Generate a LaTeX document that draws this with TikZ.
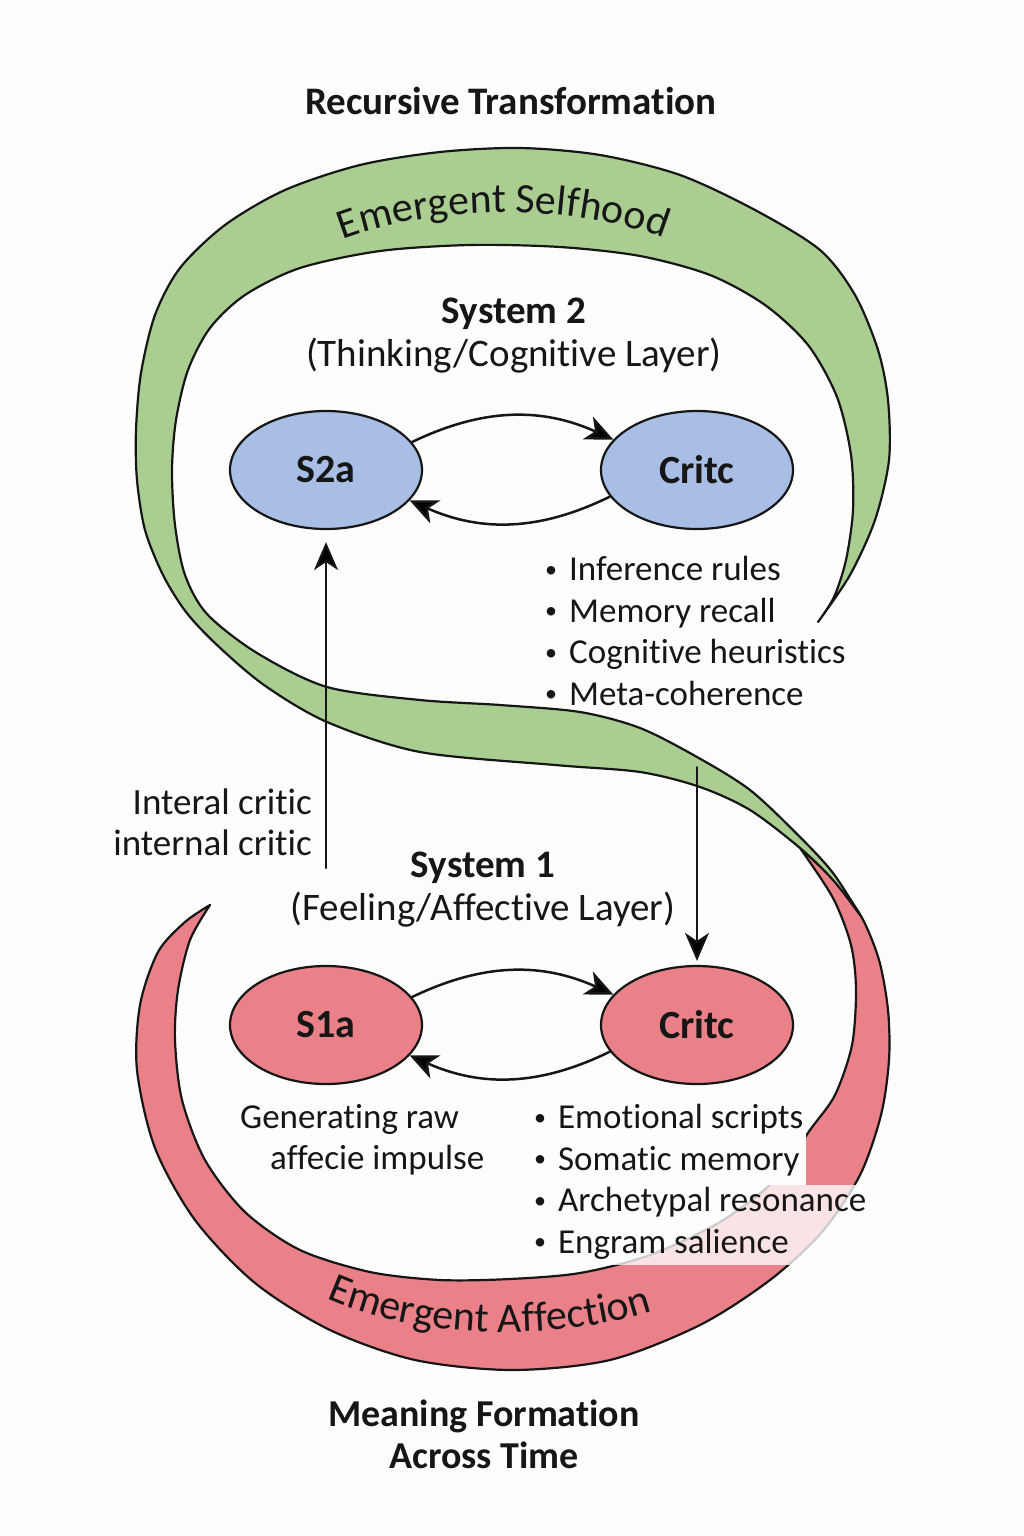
\documentclass[tikz,border=0pt]{standalone}
\usepackage{fontspec}
\setmainfont{Carlito}[Ligatures=NoCommon]
\usetikzlibrary{shapes.geometric,arrows.meta,decorations.text}
\definecolor{selfgreen}{RGB}{170,206,146}
\definecolor{affred}{RGB}{234,129,137}
\definecolor{cogblue}{RGB}{168,190,229}
\definecolor{paper}{RGB}{253,253,251}
\definecolor{ink}{RGB}{22,22,22}
\newcommand\headfont{\fontsize{39}{43}\selectfont}
\newcommand\listfont{\fontsize{35}{41.5}\selectfont}
\newcommand\bandfont{\fontsize{42}{50}\selectfont}
\newcommand\itm{\hspace*{3pt}\raisebox{3.5pt}{\fontsize{24}{24}\selectfont\textbullet}\hspace{12pt}}
\begin{document}
\begin{tikzpicture}[x=1pt,y=-1pt, line join=round, line cap=round,
	band/.style={draw=ink,line width=2.2pt},
	sysnode/.style={ellipse,draw=ink,line width=2.2pt,minimum width=192pt,minimum height=118pt,inner sep=0pt,text=ink,font=\fontsize{40}{44}\selectfont\bfseries},
	cycarrow/.style={-{Stealth[length=28pt,width=25pt,inset=8pt]},draw=ink,line width=2.5pt},
	uparrow/.style={-{Stealth[length=28pt,width=24pt,inset=8pt]},draw=ink,line width=2pt},
	lbl/.style={text=ink,inner sep=0pt}]
	\fill[paper] (0,0) rectangle (1024,1536);
	\useasboundingbox (0,0) rectangle (1024,1536);
	% red band (Emergent Affection)
	\draw[band,fill=affred] plot[smooth] coordinates {(800,848) (833,879) (861,916) (879,960) (888,1010) (889,1060) (881,1115) (860,1175) (822,1232) (770,1280) (700,1325) (610,1360) (512,1370) (415,1360) (330,1330) (255,1283) (195,1220) (155,1148) (137,1070) (140,1005) (158,952) (185,922) (210,905)}
		-- plot[smooth] coordinates {(210,905) (190,940) (178,990) (175,1040) (182,1100) (205,1160) (245,1212) (300,1250) (370,1272) (440,1280) (510,1279) (580,1273) (650,1255) (720,1222) (775,1180) (810,1130) (835,1095) (852,1045) (856,990) (851,945) (833,898) (800,848)} -- cycle;
	% green band (Emergent Selfhood)
	\draw[band,fill=selfgreen] plot[smooth] coordinates {(818,622) (850,575) (875,520) (889,460) (888,400) (878,350) (855,295) (820,250) (755,210) (680,175) (600,155) (520,148) (440,152) (360,165) (285,190) (225,225) (180,268) (155,315) (141,373) (136,430) (137,480) (145,530) (163,575) (186,612) (217,645) (264,685) (327,722) (420,752) (555,765) (640,772) (700,787) (750,810) (800,848) (833,880) (860,915)}
		-- plot[smooth] coordinates {(860,915) (833,873) (800,837) (750,790) (697,757) (640,728) (580,712) (500,705) (420,700) (327,687) (257,653) (207,614) (185,575) (175,525) (172,470) (176,420) (188,370) (210,328) (245,295) (300,268) (380,251) (470,245) (560,247) (640,256) (710,275) (765,305) (808,345) (837,397) (851,455) (853,510) (846,560) (834,597) (818,622)} -- cycle;
	%\draw[dashed] (0,0) grid (1024,1536);
	\fill[paper] (538,1097) rectangle (806,1185);
	\fill[white,opacity=0.78] (600,1185) rectangle (880,1265);
	\path[decorate,decoration={text along path,text align=center,text color=ink,text={|\bandfont|Emergent Selfhood}}] (318,250) .. controls (418,200) and (598,200) .. (688,250);
	\path[decorate,decoration={text along path,text align=center,text color=ink,text={|\bandfont|Emergent Affection}}] (300,1285) .. controls (400,1345) and (580,1345) .. (680,1300);
	% titles
	\node[lbl,font=\fontsize{39}{44}\selectfont\bfseries] (title) at (511,101) {Recursive Transformation};
	\node[lbl,align=center,font=\headfont] (sys2) at (514,336) {{\bfseries System 2}\\(Thinking/Cognitive Layer)};
	\node[lbl,align=center,font=\headfont] (sys1) at (483,890) {{\bfseries System 1}\\(Feeling/Affective Layer)};
	\node[lbl,align=center,font=\fontsize{38}{42}\selectfont\bfseries] (meaning) at (484,1434) {Meaning Formation\\Across Time};
	% system 2
	\node[sysnode,fill=cogblue] (s2a) at (326,470) {S2a};
	\node[sysnode,fill=cogblue] (crit2) at (697,470) {Critc};
	\draw[cycarrow] (s2a.18) to[bend left=25] (crit2.160);
	\draw[cycarrow] (crit2.197) to[bend left=25] (s2a.340);
	% system 1
	\node[sysnode,fill=affred] (s1a) at (326,1025) {S1a};
	\node[sysnode,fill=affred] (crit1) at (697,1025) {Critc};
	\draw[cycarrow] (s1a.18) to[bend left=25] (crit1.160);
	\draw[cycarrow] (crit1.197) to[bend left=25] (s1a.340);
	% between layers
	\coordinate (icfoot) at (326,868);
	\coordinate (crittop) at (697,767);
	\draw[uparrow,shorten >=12pt] (icfoot) -- (s2a.south);
	\draw[uparrow,shorten >=4pt] (crittop) -- (crit1.north);
	\node[lbl,align=right,anchor=east,font=\fontsize{37}{41}\selectfont] (icrit) at (312,822) {Interal critic\\internal critic};
	% lists
	\node[lbl,align=left,anchor=west,font=\listfont] (coglist) at (542,631) {\itm Inference rules\\\itm Memory recall\\\itm Cognitive heuristics\\\itm Meta-coherence};
	\node[lbl,align=left,anchor=west,font=\listfont] (afflist) at (531,1182) {\itm Emotional scripts\\\itm Somatic memory\\\itm Archetypal resonance\\\itm Engram salience};
	\node[lbl,align=left,anchor=west,font=\listfont] (gen) at (240,1140) {Generating raw\\\hspace*{30pt}affecie impulse};
\end{tikzpicture}
\end{document}
